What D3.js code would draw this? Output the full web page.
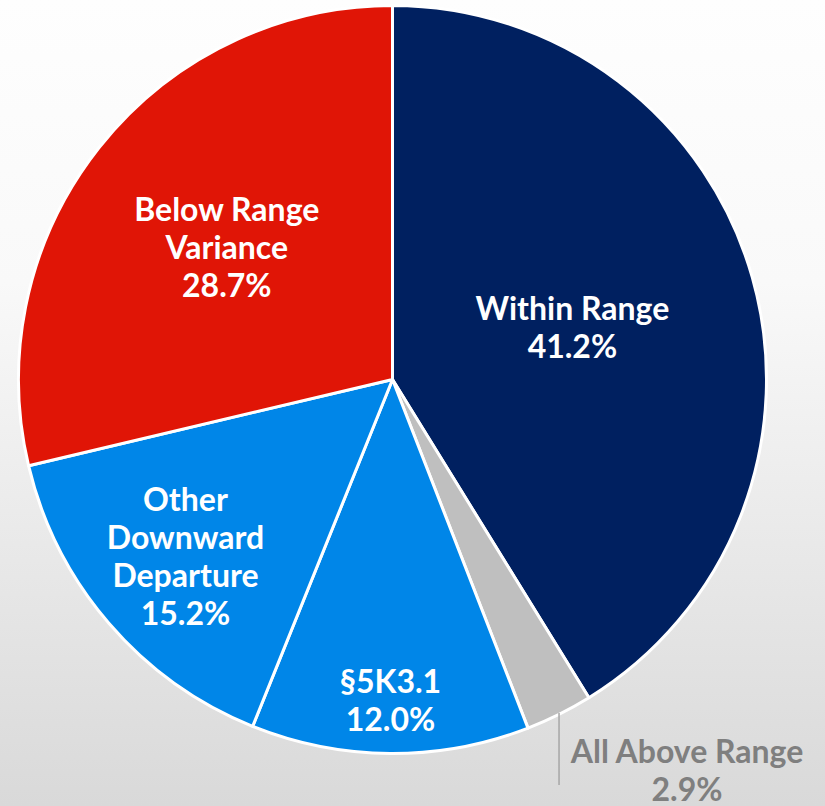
<!DOCTYPE html>
<html><head><meta charset="utf-8">
<script src="https://cdn.jsdelivr.net/npm/d3@7"></script>
<style>html,body{margin:0;padding:0;overflow:hidden}</style>
</head><body>
<svg id="chart" width="825" height="806"></svg>
<script>
// Data
const categories = ["Within Range", "All Above Range", "§5K3.1", "Other Downward Departure", "Below Range Variance"];
const values = [41.2, 2.9, 12.0, 15.2, 28.7];
const labelLines = [["Within Range"], ["All Above Range"], ["§5K3.1"], ["Other", "Downward", "Departure"], ["Below Range", "Variance"]];
const colors = ["#002060", "#bfbfbf", "#0086e8", "#0086e8", "#e01506"];
// layout (label radial fraction; null = outside label)
const labelRadius = [0.5, null, 0.86, 0.73, 0.565];

const W = 825, H = 806;
const svg = d3.select("#chart");
const defs = svg.append("defs");
const grad = defs.append("linearGradient").attr("id", "bg").attr("x1", 0).attr("y1", 0).attr("x2", 0).attr("y2", 1);
grad.append("stop").attr("offset", "0%").attr("stop-color", "#fefefe");
grad.append("stop").attr("offset", "35%").attr("stop-color", "#f9f9f9");
grad.append("stop").attr("offset", "100%").attr("stop-color", "#d9d9d9");
svg.append("rect").attr("width", W).attr("height", H).attr("fill", "url(#bg)");

const cx = 392.5, cy = 379.5, R = 374;
const g = svg.append("g").attr("transform", `translate(${cx},${cy})`);
const data = categories.map((c, i) => ({cat: c, value: values[i], i}));
const pie = d3.pie().value(d => d.value).sort(null);
const arcs = pie(data);
const arc = d3.arc().innerRadius(0).outerRadius(R);

g.selectAll("path.slice").data(arcs).join("path")
  .attr("class", "slice")
  .attr("d", arc)
  .attr("fill", d => colors[d.data.i])
  .attr("stroke", "#ffffff")
  .attr("stroke-width", 3)
  .attr("stroke-linejoin", "round");

const fs = 32, lh = 38, dy0 = -2;
arcs.forEach(d => {
  const i = d.data.i;
  const lines = labelLines[i].concat([d3.format(".1f")(values[i]) + "%"]);
  if (labelRadius[i] !== null) {
    const a = (d.startAngle + d.endAngle) / 2;
    const r = R * labelRadius[i];
    const x = r * Math.sin(a), y = -r * Math.cos(a);
    const t = g.append("text").attr("text-anchor", "middle")
      .attr("font-family", "Lato, sans-serif").attr("font-weight", 700)
      .attr("font-size", fs).attr("fill", "#ffffff");
    lines.forEach((ln, k) => {
      t.append("tspan").attr("x", x)
        .attr("y", y + dy0 + (k - (lines.length - 1) / 2) * lh)
        .attr("dominant-baseline", "central")
        .text(ln);
    });
  } else {
    // outside label with vertical leader line
    const a = (d.startAngle + d.endAngle) / 2;
    const ex = (R + 2) * Math.sin(a), ey = -(R + 2) * Math.cos(a);
    const lx = ex - 1;
    g.append("line").attr("x1", lx).attr("y1", ey - 3).attr("x2", lx).attr("y2", ey + 69)
      .attr("stroke", "#a6a6a6").attr("stroke-width", 1.5);
    const tx = lx + 128, ty = ey + 34;
    const t = g.append("text").attr("text-anchor", "middle")
      .attr("font-family", "Lato, sans-serif").attr("font-weight", 700)
      .attr("font-size", fs).attr("fill", "#7f7f7f");
    lines.forEach((ln, k) => {
      t.append("tspan").attr("x", tx)
        .attr("y", ty + k * lh)
        .attr("dominant-baseline", "central")
        .text(ln);
    });
  }
});
</script>
</body></html>
